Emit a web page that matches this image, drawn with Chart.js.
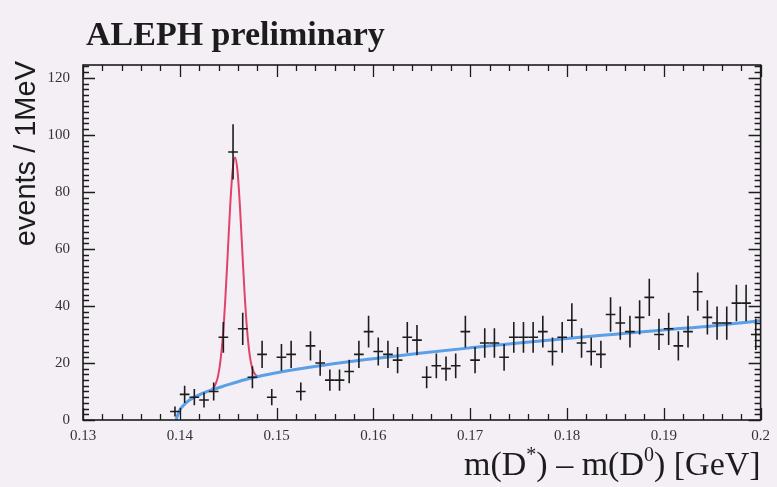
<!DOCTYPE html>
<html>
<head>
<meta charset="utf-8">
<script src="https://cdn.jsdelivr.net/npm/chart.js@4.4.1/dist/chart.umd.min.js"></script>
<style>
  html, body { margin: 0; padding: 0; background: #f3eff5; }
  canvas { display: block; }
</style>
</head>
<body>
<canvas id="c" width="777" height="487"></canvas>
<script>
// Δm = m(D*) − m(D0) histogram, 1 MeV bins (bin centres in GeV)
const binCenters = [
  0.1395, 0.1405, 0.1415, 0.1425, 0.1435, 0.1445, 0.1455, 0.1465, 0.1475, 0.1485,
  0.1495, 0.1505, 0.1515, 0.1525, 0.1535, 0.1545, 0.1555, 0.1565, 0.1575, 0.1585,
  0.1595, 0.1605, 0.1615, 0.1625, 0.1635, 0.1645, 0.1655, 0.1665, 0.1675, 0.1685,
  0.1695, 0.1705, 0.1715, 0.1725, 0.1735, 0.1745, 0.1755, 0.1765, 0.1775, 0.1785,
  0.1795, 0.1805, 0.1815, 0.1825, 0.1835, 0.1845, 0.1855, 0.1865, 0.1875, 0.1885,
  0.1895, 0.1905, 0.1915, 0.1925, 0.1935, 0.1945, 0.1955, 0.1965, 0.1975, 0.1985,
  0.1995
];

// events per bin
const counts = [
  3, 9, 8, 7, 10, 29, 94, 32, 15, 23,
  8, 22, 23, 10, 26, 20, 14, 14, 17, 23,
  31, 24, 23, 21, 29, 28, 15, 19, 18, 19,
  31, 21, 27, 27, 22, 29, 29, 29, 31, 24,
  29, 35, 27, 24, 23, 37, 34, 31, 36, 43,
  30, 32, 26, 31, 45, 36, 34, 34, 41, 41,
  30
];

// combinatorial background fit (blue)
const bgX = [0.1396, 0.1400, 0.1405, 0.1410, 0.1420, 0.1430, 0.1440, 0.1450, 0.1475, 0.1500,
             0.1550, 0.1600, 0.1650, 0.1700, 0.1750, 0.1800, 0.1850, 0.1900, 0.1950, 0.2000];
const bgY = [0, 3.5, 5.5, 7.0, 8.8, 10.2, 11.3, 12.4, 14.8, 16.6,
             19.3, 21.5, 23.5, 25.3, 27.0, 28.6, 30.1, 31.6, 33.0, 34.8];

// signal + background fit around the D* peak (red)
const sigX = [0.14320, 0.14345, 0.14370, 0.14395, 0.14420, 0.14445, 0.14470, 0.14495, 0.14520, 0.14545,
              0.14570, 0.14595, 0.14620, 0.14645, 0.14670, 0.14695, 0.14720, 0.14745, 0.14770, 0.14795,
              0.14820];
const sigY = [10.4, 11.2, 12.7, 15.4, 20.7, 29.4, 42.3, 58.3, 74.8, 87.3,
              92.1, 87.7, 75.6, 59.6, 44.0, 31.6, 23.3, 18.6, 16.4, 15.5,
              15.3];

// axis tick labels
const xTickLabels = ['0.13', '0.14', '0.15', '0.16', '0.17', '0.18', '0.19', '0.2'];
const yTickLabels = ['0', '20', '40', '60', '80', '100', '120'];

const xTickValues = xTickLabels.map(Number);
const yTickValues = yTickLabels.map(Number);
const BIN_HALF = 0.0005;

const INK = '#1c1c1c';

function labelFor(values, labels, v) {
  for (let i = 0; i < values.length; i++) {
    if (Math.abs(values[i] - v) < 1e-9) return labels[i];
  }
  return '';
}

// page background
const backdrop = {
  id: 'backdrop',
  beforeDraw(chart) {
    const { ctx, width, height } = chart;
    ctx.save();
    ctx.fillStyle = '#f3eff5';
    ctx.fillRect(0, 0, width, height);
    ctx.restore();
  }
};

// statistical error bars (±sqrt(N)) with bin-width horizontal bars
const errorBars = {
  id: 'errorBars',
  afterDatasetsDraw(chart) {
    const { ctx, chartArea, scales: { x, y } } = chart;
    ctx.save();
    ctx.beginPath();
    ctx.rect(chartArea.left, chartArea.top, chartArea.right - chartArea.left, chartArea.bottom - chartArea.top);
    ctx.clip();
    ctx.strokeStyle = INK;
    ctx.lineWidth = 1.6;
    binCenters.forEach((c, i) => {
      const n = counts[i];
      const e = Math.sqrt(n);
      const px = x.getPixelForValue(c);
      const py = y.getPixelForValue(n);
      ctx.beginPath();
      ctx.moveTo(px, y.getPixelForValue(n + e));
      ctx.lineTo(px, y.getPixelForValue(Math.max(n - e, 0)));
      ctx.moveTo(x.getPixelForValue(c - BIN_HALF), py);
      ctx.lineTo(x.getPixelForValue(c + BIN_HALF), py);
      ctx.stroke();
    });
    ctx.restore();
  }
};

// frame with inward ticks on all four sides, plus the titles
const frame = {
  id: 'frame',
  afterDraw(chart) {
    const { ctx, chartArea: a, scales: { x, y } } = chart;
    ctx.save();
    ctx.strokeStyle = INK;
    ctx.lineWidth = 1.3;

    ctx.beginPath();
    // x ticks (major every 0.01, minor every 0.002)
    for (let k = 0; k <= 35; k++) {
      const v = 0.13 + k * 0.002;
      const px = Math.round(x.getPixelForValue(v)) + 0.5;
      const len = (k % 5 === 0) ? 12 : 6;
      ctx.moveTo(px, a.bottom); ctx.lineTo(px, a.bottom - len);
      ctx.moveTo(px, a.top); ctx.lineTo(px, a.top + len);
    }
    // y ticks (major every 20, minor every 2)
    for (let v = 0; v <= y.max; v += 2) {
      const py = Math.round(y.getPixelForValue(v)) + 0.5;
      const len = (v % 20 === 0) ? 12 : 6;
      ctx.moveTo(a.left, py); ctx.lineTo(a.left + len, py);
      ctx.moveTo(a.right, py); ctx.lineTo(a.right - len, py);
    }
    ctx.stroke();

    ctx.lineWidth = 1.6;
    ctx.strokeRect(a.left, a.top, a.right - a.left, a.bottom - a.top);

    // title
    ctx.fillStyle = INK;
    ctx.textAlign = 'left';
    ctx.textBaseline = 'alphabetic';
    ctx.font = 'bold 34px "Liberation Serif"';
    ctx.fillText('ALEPH preliminary', 86, 45);

    // y axis title
    ctx.save();
    ctx.translate(27, a.top - 4);
    ctx.rotate(-Math.PI / 2);
    ctx.textAlign = 'right';
    ctx.textBaseline = 'middle';
    ctx.font = '29px "Liberation Sans"';
    ctx.fillText('events / 1MeV', 0, 0);
    ctx.restore();

    // x axis title with superscripts, right-aligned to the frame
    const base = '34px "Liberation Serif"';
    const sup = '20px "Liberation Serif"';
    const parts = [
      ['m(D', base, 0], ['*', sup, -14], [') \u2013 m(D', base, 0], ['0', sup, -14], [') [GeV]', base, 0]
    ];
    let total = 0;
    parts.forEach(p => { ctx.font = p[1]; total += ctx.measureText(p[0]).width; });
    let cx = a.right - total;
    const by = 475;
    ctx.textAlign = 'left';
    parts.forEach(p => {
      ctx.font = p[1];
      ctx.fillText(p[0], cx, by + p[2]);
      cx += ctx.measureText(p[0]).width;
    });

    ctx.restore();
  }
};

const tickFont = { family: 'Liberation Serif', size: 15 };

new Chart(document.getElementById('c'), {
  type: 'scatter',
  data: {
    datasets: [
      {
        type: 'line',
        data: sigX.map((v, i) => ({ x: v, y: sigY[i] })),
        borderColor: '#e0436a',
        borderWidth: 2,
        pointRadius: 0,
        cubicInterpolationMode: 'monotone',
        fill: false,
        order: 3
      },
      {
        type: 'line',
        data: bgX.map((v, i) => ({ x: v, y: bgY[i] })),
        borderColor: '#5a9fe8',
        borderWidth: 3,
        pointRadius: 0,
        cubicInterpolationMode: 'monotone',
        fill: false,
        order: 2
      },
      {
        type: 'scatter',
        data: binCenters.map((v, i) => ({ x: v, y: counts[i] })),
        pointRadius: 0,
        order: 1
      }
    ]
  },
  options: {
    responsive: false,
    animation: false,
    devicePixelRatio: 1,
    layout: { padding: { top: 65, right: 14, left: 0, bottom: 0 } },
    plugins: { legend: { display: false }, tooltip: { enabled: false } },
    scales: {
      x: {
        type: 'linear',
        min: 0.13,
        max: 0.2,
        afterFit(s) { s.height = 67; },
        afterBuildTicks(s) { s.ticks = xTickValues.map(v => ({ value: v })); },
        grid: { display: false, drawTicks: false },
        border: { display: false },
        ticks: {
          padding: 7,
          font: tickFont,
          color: '#333333',
          maxRotation: 0,
          autoSkip: false,
          callback: v => labelFor(xTickValues, xTickLabels, v)
        }
      },
      y: {
        type: 'linear',
        min: 0,
        max: 124.5,
        afterFit(s) { s.width = 83; },
        afterBuildTicks(s) { s.ticks = yTickValues.map(v => ({ value: v })); },
        grid: { display: false, drawTicks: false },
        border: { display: false },
        ticks: {
          padding: 13,
          font: tickFont,
          color: '#333333',
          autoSkip: false,
          callback: v => labelFor(yTickValues, yTickLabels, v)
        }
      }
    }
  },
  plugins: [backdrop, errorBars, frame]
});
</script>
</body>
</html>
